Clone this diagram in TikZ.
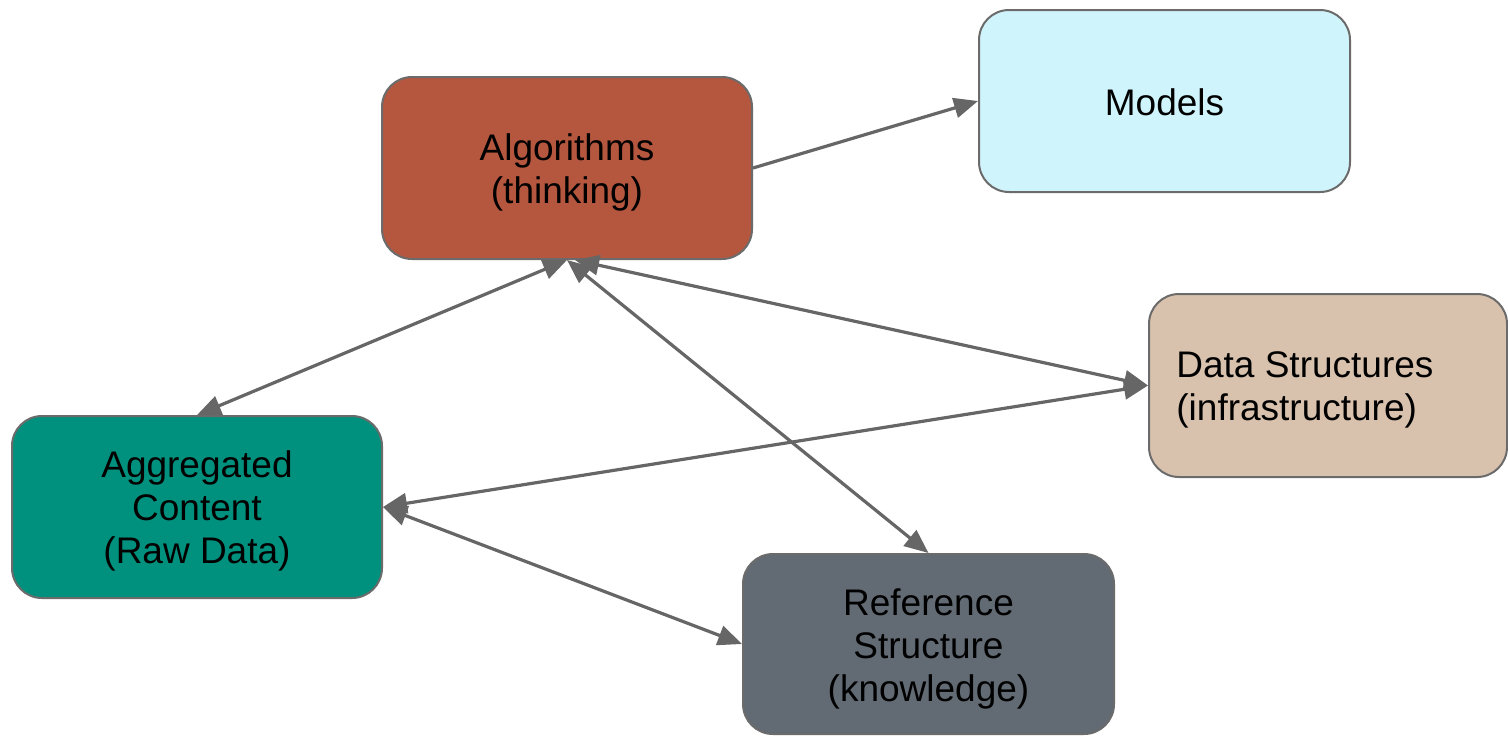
\documentclass[tikz,border=0pt]{standalone}
\usepackage{fontspec}
\setmainfont{Liberation Sans}
\usetikzlibrary{arrows.meta}
\definecolor{algc}{HTML}{B5573F}
\definecolor{modc}{HTML}{D0F4FC}
\definecolor{dsc}{HTML}{D9C2AD}
\definecolor{aggc}{HTML}{00917E}
\definecolor{refc}{HTML}{626A73}
\definecolor{edgec}{HTML}{6B6B6B}
\definecolor{arrc}{HTML}{666666}
\tikzset{
  box/.style={draw=edgec, line width=1pt, rounded corners=15pt, inner sep=0pt},
  txt/.style={inner sep=0pt, align=center, font=\fontsize{18.5}{21.5}\selectfont, text=black},
  conn/.style={draw=arrc, line width=1.6pt},
  tip/.style={-{Triangle[length=12pt,width=10pt]}},
  bothtips/.style={{Triangle[length=12pt,width=10pt]}-{Triangle[length=12pt,width=10pt]}}
}
\begin{document}
\begin{tikzpicture}[x=0.5pt,y=-0.5pt]
\useasboundingbox (0,0) rectangle (1508,735);
\node[box, fill=algc, minimum width=185pt, minimum height=91pt] (alg) at (567,168) {};
\node[box, fill=modc, minimum width=185.5pt, minimum height=91pt] (models) at (1164.5,101) {};
\node[box, fill=dsc, minimum width=179pt, minimum height=91.5pt] (ds) at (1328,385.5) {};
\node[box, fill=aggc, minimum width=185pt, minimum height=91pt] (agg) at (197,507) {};
\node[box, fill=refc, minimum width=185.5pt, minimum height=90pt] (ref) at (928.5,644) {};

\node[txt] (algt) at (567,172) {Algorithms\\(thinking)};
\node[txt] (modelst) at (1164.5,102) {Models};
\node[txt, align=left, anchor=west] (dst) at (1176,390) {Data Structures\\(infrastructure)};
\node[txt] (aggt) at (197,511) {Aggregated\\Content\\(Raw Data)};
\node[txt] (reft) at (928.5,649) {Reference\\Structure\\(knowledge)};

\draw[conn, tip] (alg.east) -- (models.west);
\draw[conn, bothtips] (alg.south) -- (agg.north);
\draw[conn, bothtips] (alg.south) -- (ref.north);
\draw[conn, bothtips] ([xshift=4pt]alg.south) -- (ds.west);
\draw[conn, bothtips] (ds.west) -- (agg.east);
\draw[conn, bothtips] (agg.east) -- (ref.west);
\end{tikzpicture}
\end{document}
